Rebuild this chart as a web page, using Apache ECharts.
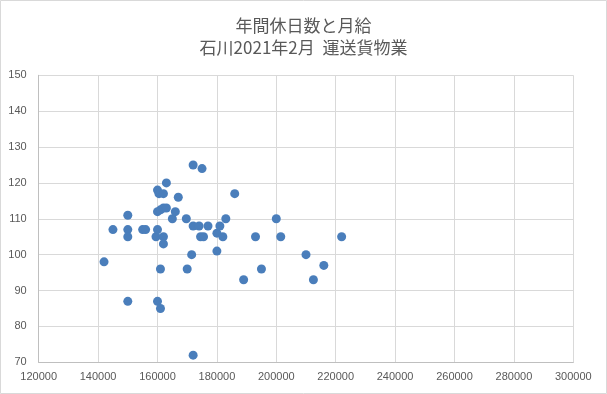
<!DOCTYPE html>
<html><head><meta charset="utf-8">
<script src="https://cdn.jsdelivr.net/npm/echarts@6/dist/echarts.min.js"></script>
<style>html,body{margin:0;padding:0;background:#fff}#c{width:607px;height:394px}</style>
</head><body><div id="c"></div>
<script>
const titleLines = ['年間休日数と月給', '石川2021年2月  運送貨物業'];
const xTicks = [120000, 300000, 20000];
const yTicks = [70, 150, 10];
// monthly salary (yen)
const salary = [142000,145000,150000,150000,150000,150000,155000,156000,159500,160000,160500,162000,
  160000,161000,162000,163000,160000,160000,161000,161000,162000,162000,163000,165000,166000,167000,
  169700,170000,171500,172000,175000,172000,174000,172000,174500,175500,177000,180000,180000,181000,
  182000,183000,186000,189000,193000,195000,200000,201500,210000,212500,216000,222000];
// annual holidays
const holidays = [98,107,111,107,105,87,107,107,105,118,117,117,
  112,112.5,113,113,107,87,96,85,105,103,120,110,112,116,
  110,96,100,125,124,108,108,72,105,105,108,106,101,108,
  105,110,117,93,105,96,110,105,100,93,97,105];

const chart = echarts.init(document.getElementById('c'), null, {renderer:'canvas'});
const pts = salary.map((s,i)=>[s, holidays[i]]);
const labelFont = 'Liberation Sans, Arial, sans-serif';
chart.setOption({
  animation:false,
  backgroundColor:'#fff',
  graphic:[{type:'rect',shape:{x:0.5,y:0.5,width:606,height:393},style:{fill:'none',stroke:'#d9d9d9',lineWidth:1},silent:true}],
  title:[
    {text:titleLines[0],left:'center',top:12,textStyle:{fontFamily:'Noto Sans CJK JP',fontWeight:'normal',fontSize:17,color:'#595959'}},
    {text:titleLines[1],left:'center',top:34,textStyle:{fontFamily:'Noto Sans CJK JP',fontWeight:'normal',fontSize:17,color:'#595959'}}
  ],
  grid:{left:38.7,right:33.7,top:75.3,bottom:31.7,containLabel:false},
  xAxis:{type:'value',min:xTicks[0],max:xTicks[1],interval:xTicks[2],
    axisLine:{show:true,lineStyle:{color:'#bfbfbf'}},axisTick:{show:false},
    splitLine:{show:true,lineStyle:{color:'#d9d9d9'}},
    axisLabel:{color:'#595959',fontSize:11,fontFamily:labelFont,margin:9,formatter:v=>String(v)}},
  yAxis:{type:'value',min:yTicks[0],max:yTicks[1],interval:yTicks[2],
    axisLine:{show:true,lineStyle:{color:'#bfbfbf'}},axisTick:{show:false},
    splitLine:{show:true,lineStyle:{color:'#d9d9d9'}},
    axisLabel:{color:'#595959',fontSize:11,fontFamily:labelFont,margin:12,formatter:v=>String(v)}},
  series:[{type:'scatter',data:pts,symbol:'circle',symbolSize:9,
    itemStyle:{color:'#4a7ebb',opacity:1}}]
});
</script></body></html>
